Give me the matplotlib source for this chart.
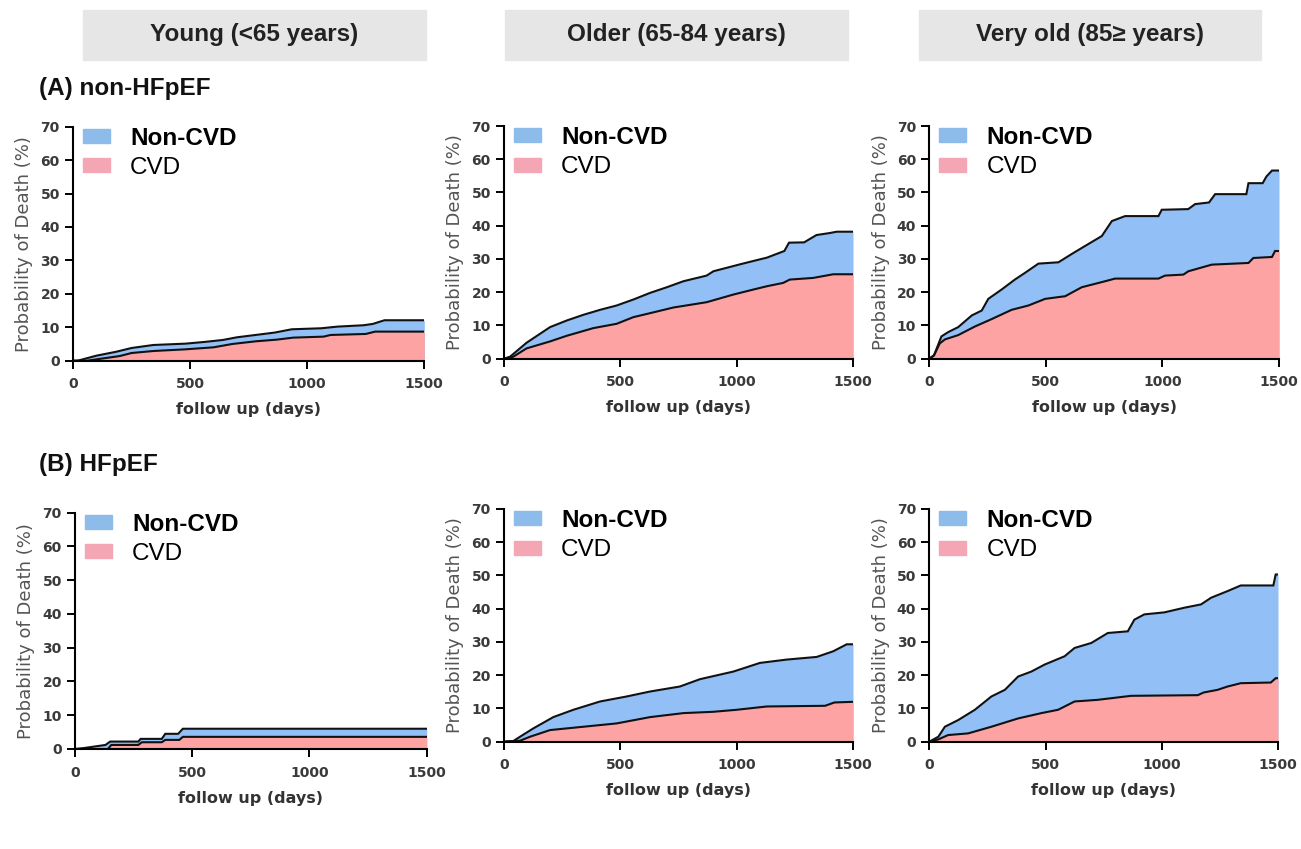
import matplotlib
matplotlib.use("Agg")
import matplotlib.pyplot as plt
from matplotlib.patches import Patch, Rectangle

# ---- curve corners (day, cumulative %) ----
# (A) non-HFpEF
young_a_t_all = [0, 20, 100, 186, 250, 343, 480, 560, 640, 700, 780, 860, 934, 1060, 1130, 1240, 1280, 1330, 1500]
young_a_all = [0, 0, 1.5, 2.7, 3.8, 4.7, 5.1, 5.6, 6.2, 7.0, 7.7, 8.4, 9.4, 9.7, 10.2, 10.6, 11.0, 12.1, 12.1]
young_a_t_cvd = [0, 60, 130, 200, 250, 343, 480, 600, 680, 780, 870, 940, 1070, 1100, 1250, 1290, 1500]
young_a_cvd = [0, 0, 0.7, 1.4, 2.3, 2.9, 3.4, 4.0, 5.0, 5.8, 6.3, 6.9, 7.2, 7.7, 8.0, 8.7, 8.7]

older_a_t_all = [0, 26, 97, 198, 270, 341, 413, 484, 556, 628, 700, 771, 871, 900, 1015, 1072, 1130,
                 1190, 1205, 1225, 1290, 1343, 1400, 1430, 1500]
older_a_all = [0, 0.6, 4.8, 9.5, 11.5, 13.2, 14.7, 16.0, 17.8, 19.8, 21.5, 23.3, 25.0, 26.3, 28.4, 29.4, 30.4,
               32.0, 32.4, 34.9, 35.0, 37.2, 37.8, 38.2, 38.2]
older_a_t_cvd = [0, 40, 97, 198, 270, 384, 484, 556, 628, 728, 800, 871, 986, 1060, 1130, 1200, 1228, 1329, 1415, 1500]
older_a_cvd = [0, 0.6, 3.1, 5.2, 6.9, 9.2, 10.5, 12.5, 13.7, 15.4, 16.2, 17.0, 19.3, 20.6, 21.8, 22.8, 23.8, 24.3, 25.4, 25.4]

vold_a_t_all = [0, 20, 52, 81, 124, 182, 225, 253, 310, 367, 410, 468, 554, 611, 668, 740, 783, 840, 983, 997,
                1111, 1140, 1200, 1226, 1360, 1369, 1430, 1446, 1470, 1500]
vold_a_all = [0, 1.0, 6.7, 8.0, 9.5, 13.0, 14.5, 18.0, 20.8, 23.8, 25.8, 28.6, 29.0, 31.5, 33.9, 36.9, 41.4, 42.9,
              42.9, 44.8, 45.0, 46.5, 47.0, 49.5, 49.5, 52.8, 52.8, 54.8, 56.6, 56.6]
vold_a_t_cvd = [0, 20, 45, 67, 124, 196, 267, 353, 425, 497, 583, 654, 754, 797, 983, 1011, 1090, 1111, 1212,
                1369, 1390, 1470, 1483, 1500]
vold_a_cvd = [0, 1.0, 4.6, 5.8, 7.1, 9.7, 11.9, 14.7, 16.0, 18.0, 18.8, 21.5, 23.3, 24.1, 24.1, 25.0, 25.3, 26.3,
              28.3, 28.8, 30.3, 30.6, 32.4, 32.4]

# (B) HFpEF
young_b_t_all = [0, 40, 130, 150, 270, 280, 370, 385, 440, 460, 1500]
young_b_all = [0, 0.3, 1.2, 2.2, 2.2, 3.0, 3.0, 4.5, 4.5, 6.0, 6.0]
young_b_t_cvd = [0, 140, 155, 270, 285, 370, 385, 445, 460, 1500]
young_b_cvd = [0, 0, 1.2, 1.2, 2.0, 2.0, 2.7, 2.7, 3.6, 3.6]

older_b_t_all = [0, 40, 69, 126, 212, 298, 413, 527, 628, 756, 842, 986, 1100, 1215, 1344, 1415, 1473, 1500]
older_b_all = [0, 0.2, 1.5, 4.0, 7.4, 9.6, 12.1, 13.6, 15.1, 16.6, 18.8, 21.1, 23.7, 24.7, 25.5, 27.2, 29.3, 29.3]
older_b_t_cvd = [0, 69, 112, 198, 341, 484, 628, 771, 900, 1000, 1130, 1380, 1420, 1500]
older_b_cvd = [0, 0.3, 1.5, 3.5, 4.5, 5.5, 7.4, 8.6, 9.0, 9.6, 10.6, 10.8, 11.8, 12.0]

vold_b_t_all = [0, 39, 67, 124, 196, 267, 325, 382, 439, 496, 582, 625, 697, 768, 854, 882, 925, 1011, 1097,
                1169, 1212, 1283, 1340, 1480, 1490, 1500]
vold_b_all = [0, 1.5, 4.5, 6.5, 9.6, 13.6, 15.6, 19.6, 21.1, 23.2, 25.7, 28.2, 29.7, 32.7, 33.2, 36.7, 38.3, 38.9,
              40.3, 41.3, 43.3, 45.3, 47.0, 47.0, 50.3, 50.3]
vold_b_t_cvd = [0, 39, 81, 167, 267, 382, 482, 554, 625, 725, 868, 1155, 1180, 1240, 1283, 1340, 1469, 1490, 1500]
vold_b_cvd = [0, 0.7, 2.0, 2.5, 4.5, 7.0, 8.6, 9.6, 12.1, 12.6, 13.8, 14.0, 14.8, 15.6, 16.6, 17.6, 17.8, 19.1, 19.1]

headers = ["Young (<65 years)", "Older (65-84 years)", "Very old (85\u2265 years)"]
row_titles = ["(A) non-HFpEF", "(B) HFpEF"]
legend_labels = ["Non-CVD", "CVD"]
x_ticks = [0, 500, 1000, 1500]
y_ticks = [0, 10, 20, 30, 40, 50, 60, 70]

BLUE = "#92c0f6"
PINK = "#fda3a3"
BLUE_LEG = "#8dbbea"
PINK_LEG = "#f4a6b4"

W, H = 1301, 849
fig = plt.figure(figsize=(W / 100, H / 100), dpi=100)


def rect(x0, x1, ytop, ybot):
    return [x0 / W, 1 - ybot / H, (x1 - x0) / W, (ybot - ytop) / H]


panels = [
    (rect(73, 424.3, 126.7, 360.7), young_a_t_all, young_a_all, young_a_t_cvd, young_a_cvd),
    (rect(504, 853, 126, 358.7), older_a_t_all, older_a_all, older_a_t_cvd, older_a_cvd),
    (rect(929.3, 1279, 126, 358.7), vold_a_t_all, vold_a_all, vold_a_t_cvd, vold_a_cvd),
    (rect(75, 426.7, 512.7, 749), young_b_t_all, young_b_all, young_b_t_cvd, young_b_cvd),
    (rect(504, 853, 509, 741.7), older_b_t_all, older_b_all, older_b_t_cvd, older_b_cvd),
    (rect(929.3, 1278, 509, 741.7), vold_b_t_all, vold_b_all, vold_b_t_cvd, vold_b_cvd),
]

for r, t_all, v_all, t_cvd, v_cvd in panels:
    ax = fig.add_axes(r)
    # total (blue) first, CVD (pink) painted over it
    ax.fill_between(t_all, 0, v_all, color=BLUE, lw=0)
    ax.fill_between(t_cvd, 0, v_cvd, color=PINK, lw=0)
    ax.plot(t_cvd, v_cvd, color="#111111", lw=1.5, solid_joinstyle="miter")
    ax.plot(t_all, v_all, color="#111111", lw=1.5, solid_joinstyle="miter")

    ax.set_xlim(0, 1500)
    ax.set_ylim(0, 70)
    ax.set_xticks(x_ticks)
    ax.set_yticks(y_ticks)
    for s in ["top", "right"]:
        ax.spines[s].set_visible(False)
    for s in ["left", "bottom"]:
        ax.spines[s].set_linewidth(1.5)
        ax.spines[s].set_zorder(5)
    ax.tick_params(axis="both", length=6, width=1.4, colors="black",
                   labelcolor="#3a3a3a", labelsize=10)
    ax.tick_params(axis="x", pad=6)
    for lab in ax.get_xticklabels() + ax.get_yticklabels():
        lab.set_fontweight("bold")
    ax.set_ylabel("Probability of Death (%)", fontsize=13, color="#555555", labelpad=5)
    ax.set_xlabel("follow up (days)", fontsize=11.5, fontweight="bold", color="#333333", labelpad=8)

    handles = [Patch(color=BLUE_LEG), Patch(color=PINK_LEG)]
    leg = ax.legend(handles, legend_labels, loc="upper left", bbox_to_anchor=(0.028, 1.0),
                    frameon=False, borderpad=0, borderaxespad=0, handlelength=1.1,
                    handleheight=0.5, handletextpad=0.85, labelspacing=0.3,
                    prop={"family": ["Liberation Sans", "DejaVu Sans"], "size": 17.5})
    leg.get_texts()[0].set_fontweight("bold")

# column headers in grey boxes
boxes = [(83, 426), (505, 848), (919, 1261)]
for (x0, x1), txt in zip(boxes, headers):
    fig.patches.append(Rectangle((x0 / W, 1 - 60 / H), (x1 - x0) / W, 50 / H,
                                 transform=fig.transFigure, color="#e6e6e6", zorder=0))
    fig.text((x0 + x1) / 2 / W, 1 - 35 / H, txt, ha="center", va="center", fontsize=17.5,
             fontweight="bold", family=["Liberation Sans", "DejaVu Sans"], color="#222222")

for txt, y in zip(row_titles, [88, 465]):
    fig.text(39 / W, 1 - y / H, txt, ha="left", va="center", fontsize=17.5,
             fontweight="bold", family=["Liberation Sans", "DejaVu Sans"], color="#111111")

fig.savefig("out.png", dpi=100)
